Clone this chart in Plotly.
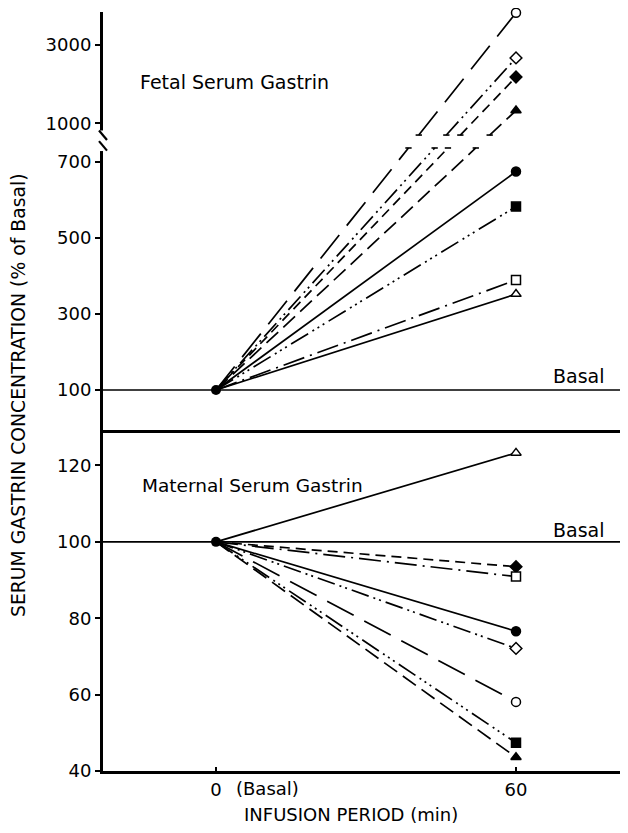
import plotly.graph_objects as go

# ---------------- data ----------------
time_points = [0, 60]
basal_value = 100
series_symbols = ["circle-open", "diamond-open", "diamond", "triangle-up",
                  "circle", "square", "square-open", "triangle-up-open"]
fetal_60 = [3820, 2670, 2185, 1330, 674, 582, 389, 352]
maternal_60 = [58.1, 72.1, 93.5, 43.6, 76.6, 47.4, 90.9, 123.3]
fetal_tick_values = [100, 300, 500, 700, 1000, 3000]
maternal_tick_values = [40, 60, 80, 100, 120]
x_tick_values = [0, 60]
x_tick_labels = ["0", "60"]

# ---------------- styles ----------------
dashes = ["30px,12px", "18px,5px,2px,4px,2px,5px", "10px,6px", "16px,7px",
          "solid", "20px,5px,2px,4px,2px,4px,2px,5px", "22px,6px,2px,6px", "solid"]
FONT = "DejaVu Sans"
LW = 1.7


def marker_style(sym, size=9):
    # open symbols drawn with a white fill so the line does not show through
    if sym.endswith("-open"):
        return dict(symbol=sym[:-5], size=size, color="white",
                    line=dict(color="black", width=1.5))
    return dict(symbol=sym, size=size, color="black", line=dict(color="black", width=1.5))


# broken fetal axis: linear below the break, compressed above it
def fetal_scale(v):
    return v if v <= 777.4 else 800.4 + (v - 1000) * 0.10315


GAP_LO, GAP_HI = 736, 770   # display levels where lines are broken

fig = go.Figure()

# basal reference lines
for yref in ["y", "y2"]:
    fig.add_shape(type="line", xref="x domain", yref=yref, x0=0, x1=1,
                  y0=basal_value, y1=basal_value, line=dict(color="black", width=1.6),
                  layer="below")

# fetal series (top panel)
for sym, d, v in zip(series_symbols, dashes, fetal_60):
    y_end = fetal_scale(v)
    y0 = fetal_scale(basal_value)
    if y_end > GAP_HI:
        span = time_points[1] - time_points[0]
        t_lo = time_points[0] + span * (GAP_LO - y0) / (y_end - y0)
        t_hi = time_points[0] + span * (GAP_HI - y0) / (y_end - y0)
        xs = [time_points[0], t_lo, None, t_hi, time_points[1]]
        ys = [y0, GAP_LO, None, GAP_HI, y_end]
        fig.add_trace(go.Scatter(x=[t_lo, t_hi], y=[GAP_LO, GAP_HI], xaxis="x2", yaxis="y2",
                                 mode="markers", cliponaxis=False,
                                 marker=dict(symbol="line-ew-open", size=4.5, color="black",
                                             line=dict(color="black", width=1.6))))
    else:
        xs = time_points
        ys = [y0, y_end]
    fig.add_trace(go.Scatter(x=xs, y=ys, xaxis="x2", yaxis="y2", mode="lines",
                             line=dict(color="black", width=LW, dash=d)))
    fig.add_trace(go.Scatter(x=[time_points[1]], y=[y_end], xaxis="x2", yaxis="y2",
                             mode="markers", cliponaxis=False, marker=marker_style(sym)))

# maternal series (bottom panel)
for sym, d, v in zip(series_symbols, dashes, maternal_60):
    fig.add_trace(go.Scatter(x=time_points, y=[basal_value, v], mode="lines",
                             line=dict(color="black", width=LW, dash=d)))
    fig.add_trace(go.Scatter(x=[time_points[1]], y=[v], mode="markers", cliponaxis=False,
                             marker=marker_style(sym)))

# basal points
fig.add_trace(go.Scatter(x=[time_points[0]], y=[fetal_scale(basal_value)], xaxis="x2", yaxis="y2",
                         mode="markers", cliponaxis=False,
                         marker=dict(symbol="circle", size=10, color="black")))
fig.add_trace(go.Scatter(x=[time_points[0]], y=[basal_value], mode="markers", cliponaxis=False,
                         marker=dict(symbol="circle", size=10, color="black")))

# axis break on the y axis
fig.add_shape(type="rect", xref="x domain", yref="y2", xsizemode="pixel", xanchor=0,
              x0=-4, x1=4, y0=728, y1=782, fillcolor="white", line=dict(width=0), layer="above")
for ya, yb in [(782, 757), (754, 729)]:
    fig.add_shape(type="line", xref="x domain", yref="y2", xsizemode="pixel", xanchor=0,
                  x0=-4, x1=4, y0=ya, y1=yb, line=dict(color="black", width=2.2), layer="above")

axis_common = dict(showgrid=False, zeroline=False, showline=True, linecolor="black",
                   linewidth=3, tickcolor="black", tickwidth=1.5, automargin=False,
                   tickfont=dict(family=FONT, size=18, color="black"))

# the page body adds an 8px offset, so the figure is 8px smaller on each axis
fig.update_layout(
    width=620, height=825,
    margin=dict(l=95, r=0, t=4, b=62, autoexpand=False),
    paper_bgcolor="white", plot_bgcolor="white",
    showlegend=False,
    xaxis=dict(**axis_common, domain=[0, 1], range=[-22.6, 82.4], anchor="y",
               tickvals=x_tick_values, ticktext=x_tick_labels, ticks="inside", ticklen=4),
    xaxis2=dict(**axis_common, domain=[0, 1], range=[-22.6, 82.4], anchor="y2",
                matches="x", showticklabels=False, ticks=""),
    yaxis=dict(**axis_common, domain=[0, 0.4493], range=[40, 129.3], anchor="x",
               tickvals=maternal_tick_values, ticks="outside", ticklen=5),
    yaxis2=dict(**axis_common, domain=[0.4493, 1], range=[-5.1, 1093.4], anchor="x2",
                tickvals=[fetal_scale(v) for v in fetal_tick_values],
                ticktext=[str(v) for v in fetal_tick_values], ticks="outside", ticklen=5),
)

txt = dict(family=FONT, size=19, color="black")
fig.add_annotation(x=-15.6, xref="x", y=0.9078, yref="paper", text="Fetal Serum Gastrin",
                   showarrow=False, xanchor="left", yanchor="middle", font=txt)
fig.add_annotation(x=-15.2, xref="x", y=0.3768, yref="paper", text="Maternal Serum Gastrin",
                   showarrow=False, xanchor="left", yanchor="middle",
                   font=dict(family=FONT, size=18.5, color="black"))
fig.add_annotation(x=72.6, xref="x", y=0.5204, yref="paper", text="Basal",
                   showarrow=False, xanchor="center", yanchor="middle", font=txt)
fig.add_annotation(x=72.6, xref="x", y=0.3175, yref="paper", text="Basal",
                   showarrow=False, xanchor="center", yanchor="middle", font=txt)
fig.add_annotation(x=0, xref="x", y=0, yref="paper", text="(Basal)", showarrow=False,
                   xanchor="left", yanchor="top", xshift=18, yshift=-5,
                   font=dict(family=FONT, size=18, color="black"))
fig.add_annotation(x=27, xref="x", y=-0.057, yref="paper", text="INFUSION PERIOD (min)",
                   showarrow=False, xanchor="center", yanchor="middle",
                   font=dict(family=FONT, size=18, color="black"))
fig.add_annotation(x=-0.16, xref="paper", y=0.4954, yref="paper",
                   text="SERUM GASTRIN CONCENTRATION (% of Basal)", textangle=-90,
                   showarrow=False, xanchor="center", yanchor="middle",
                   font=dict(family=FONT, size=18.8, color="black"))

fig.write_html("out.html")
